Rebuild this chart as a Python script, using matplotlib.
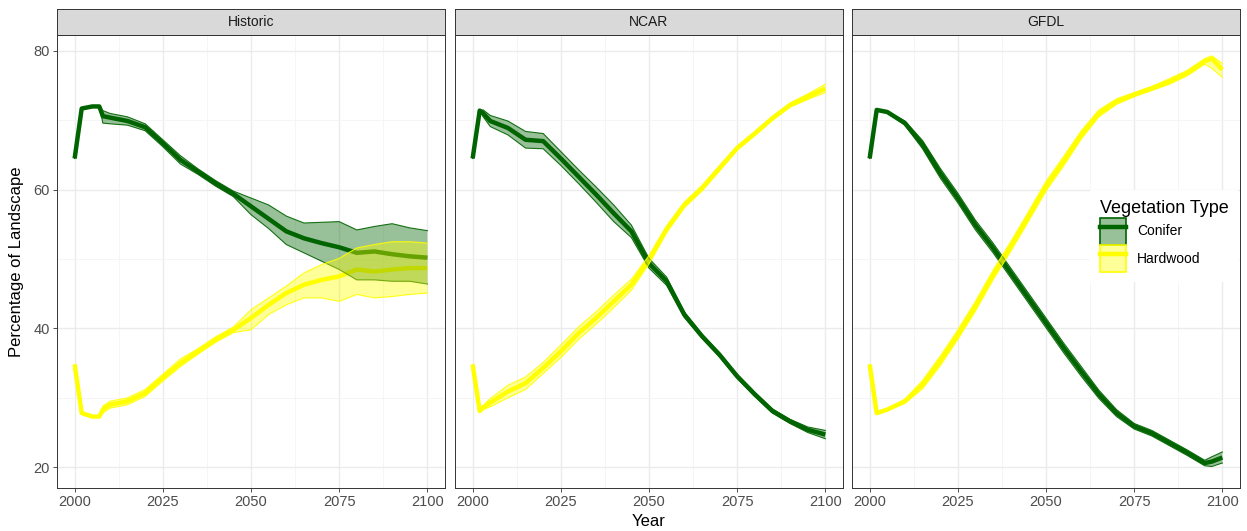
import numpy as np
import matplotlib
matplotlib.use("Agg")
import matplotlib.pyplot as plt
from matplotlib.patches import Patch
from matplotlib.lines import Line2D
from matplotlib.ticker import MultipleLocator

plt.rcParams["font.family"] = ["Liberation Sans", "DejaVu Sans"]

panels = ["Historic", "NCAR", "GFDL"]

# ---- Historic ----
hist_years = [2000, 2002, 2005, 2007, 2008, 2010, 2015, 2020, 2025, 2030, 2035, 2040,
              2045, 2050, 2055, 2060, 2065, 2070, 2075, 2080, 2085, 2090, 2095, 2100]
hist_con_mean = [64.5, 71.7, 72.0, 72.0, 70.6, 70.4, 69.9, 69.0, 66.7, 64.3, 62.6, 60.9,
                 59.4, 57.6, 55.8, 54.0, 53.0, 52.3, 51.7, 50.9, 51.1, 50.7, 50.4, 50.2]
hist_con_hi = [64.5, 71.7, 72.0, 72.0, 71.4, 71.0, 70.5, 69.5, 67.2, 64.9, 63.0, 61.3,
               59.8, 58.8, 57.8, 56.2, 55.2, 55.3, 55.4, 54.2, 54.7, 55.1, 54.5, 54.1]
hist_con_lo = [64.5, 71.7, 72.0, 72.0, 69.6, 69.5, 69.3, 68.5, 66.2, 63.7, 62.2, 60.5,
               59.0, 56.4, 54.4, 52.1, 50.9, 49.7, 48.5, 47.0, 47.0, 46.8, 46.8, 46.4]
hist_hw_mean = [34.8, 27.8, 27.3, 27.3, 28.3, 29.0, 29.5, 30.7, 32.9, 35.0, 36.7, 38.4,
                39.8, 41.5, 43.4, 45.1, 46.3, 47.0, 47.5, 48.5, 48.2, 48.5, 48.7, 48.7]
hist_hw_hi = [34.8, 27.8, 27.3, 27.3, 28.8, 29.5, 30.0, 31.2, 33.4, 35.6, 37.1, 38.8,
              40.2, 42.7, 44.4, 46.1, 48.0, 49.2, 50.1, 51.6, 52.1, 52.5, 52.5, 52.3]
hist_hw_lo = [34.8, 27.8, 27.3, 27.3, 27.8, 28.5, 29.0, 30.2, 32.4, 34.5, 36.3, 38.0,
              39.4, 39.8, 42.0, 43.4, 44.4, 44.4, 43.9, 44.9, 44.4, 44.6, 44.9, 45.1]

# ---- NCAR ----
ncar_years = [2000, 2002, 2003, 2005, 2010, 2015, 2020, 2025, 2030, 2035, 2040, 2045,
              2050, 2055, 2060, 2065, 2070, 2075, 2080, 2085, 2090, 2095, 2100]
ncar_con_mean = [64.5, 71.4, 71.0, 69.9, 68.9, 67.2, 67.0, 64.5, 61.9, 59.3, 56.6, 54.0,
                 49.4, 46.8, 42.0, 38.9, 36.2, 33.1, 30.5, 28.1, 26.6, 25.4, 24.7]
ncar_con_hi = [64.5, 71.4, 71.5, 70.7, 69.9, 68.4, 68.1, 65.5, 62.9, 60.4, 57.8, 54.9,
               50.1, 47.4, 42.4, 39.2, 36.5, 33.4, 30.8, 28.4, 26.9, 25.8, 25.3]
ncar_con_lo = [64.5, 71.4, 70.5, 69.1, 67.9, 66.0, 65.9, 63.5, 60.9, 58.2, 55.4, 53.1,
               48.7, 46.2, 41.6, 38.6, 35.9, 32.8, 30.2, 27.8, 26.3, 25.0, 24.1]
ncar_hw_mean = [34.8, 28.1, 28.6, 29.3, 30.9, 32.1, 34.3, 36.7, 39.3, 41.5, 43.9, 46.3,
                49.9, 54.3, 57.8, 60.2, 63.1, 66.0, 68.1, 70.3, 72.2, 73.4, 74.6]
ncar_hw_hi = [34.8, 28.1, 28.9, 29.9, 31.8, 33.0, 35.1, 37.6, 40.2, 42.4, 44.8, 47.1,
              50.5, 54.8, 58.2, 60.6, 63.5, 66.3, 68.4, 70.6, 72.5, 73.8, 75.2]
ncar_hw_lo = [34.8, 28.1, 28.3, 28.7, 30.0, 31.2, 33.5, 35.8, 38.4, 40.6, 43.0, 45.5,
              49.3, 53.8, 57.4, 59.8, 62.7, 65.7, 67.8, 70.0, 71.9, 73.0, 74.0]

# ---- GFDL ----
gfdl_years = [2000, 2002, 2005, 2010, 2015, 2020, 2025, 2030, 2035, 2040, 2045, 2050,
              2055, 2060, 2065, 2070, 2075, 2080, 2085, 2090, 2095, 2097, 2100]
gfdl_con_mean = [64.5, 71.5, 71.2, 69.6, 66.5, 62.4, 58.8, 54.9, 51.6, 48.0, 44.4, 40.8,
                 37.2, 33.8, 30.5, 27.8, 25.9, 24.9, 23.5, 22.1, 20.6, 20.8, 21.4]
gfdl_con_hi = [64.5, 71.5, 71.3, 69.9, 67.1, 63.1, 59.5, 55.6, 52.3, 48.7, 45.1, 41.5,
               37.9, 34.5, 31.1, 28.3, 26.3, 25.3, 23.9, 22.5, 21.0, 21.5, 22.2]
gfdl_con_lo = [64.5, 71.5, 71.1, 69.3, 65.9, 61.7, 58.1, 54.2, 50.9, 47.3, 43.7, 40.1,
               36.5, 33.1, 29.9, 27.3, 25.5, 24.5, 23.1, 21.7, 20.2, 20.1, 20.6]
gfdl_hw_mean = [34.8, 27.8, 28.3, 29.5, 31.9, 35.3, 39.1, 43.2, 47.7, 51.8, 56.1, 60.5,
                64.1, 67.9, 71.0, 72.7, 73.7, 74.6, 75.6, 76.8, 78.5, 78.9, 77.3]
gfdl_hw_hi = [34.8, 27.8, 28.4, 29.8, 32.5, 36.0, 39.8, 43.9, 48.4, 52.5, 56.8, 61.2,
              64.8, 68.5, 71.5, 73.1, 74.0, 74.9, 76.0, 77.2, 78.9, 79.3, 78.2]
gfdl_hw_lo = [34.8, 27.8, 28.2, 29.2, 31.3, 34.6, 38.4, 42.5, 47.0, 51.1, 55.4, 59.8,
              63.4, 67.3, 70.5, 72.3, 73.4, 74.3, 75.2, 76.4, 78.1, 77.5, 76.2]

data = {
    "Historic": (hist_years, hist_con_mean, hist_con_lo, hist_con_hi,
                 hist_hw_mean, hist_hw_lo, hist_hw_hi),
    "NCAR": (ncar_years, ncar_con_mean, ncar_con_lo, ncar_con_hi,
             ncar_hw_mean, ncar_hw_lo, ncar_hw_hi),
    "GFDL": (gfdl_years, gfdl_con_mean, gfdl_con_lo, gfdl_con_hi,
             gfdl_hw_mean, gfdl_hw_lo, gfdl_hw_hi),
}

con_col = "#006400"
hw_col = "#FFFF00"
W, H = 1247, 531

fig = plt.figure(figsize=(W / 100, H / 100), dpi=100)
lefts = [57, 455, 852]
pw = 388
top, bottom = 35, 488

for i, name in enumerate(panels):
    ax = fig.add_axes([lefts[i] / W, (H - bottom) / H, pw / W, (bottom - top) / H])
    yrs, cm, cl, ch, hm, hl, hh = data[name]
    # lines first, then ribbons on top (as in the original)
    ax.plot(yrs, cm, color=con_col, lw=3.2, zorder=2, solid_capstyle="butt")
    ax.plot(yrs, hm, color=hw_col, lw=3.2, zorder=2, solid_capstyle="butt")
    ax.fill_between(yrs, cl, ch, facecolor=con_col, alpha=0.4, lw=0, zorder=3)
    ax.plot(yrs, cl, color=con_col, lw=0.8, alpha=0.9, zorder=3)
    ax.plot(yrs, ch, color=con_col, lw=0.8, alpha=0.9, zorder=3)
    ax.fill_between(yrs, hl, hh, facecolor=hw_col, alpha=0.4, lw=0, zorder=4)
    ax.plot(yrs, hl, color=hw_col, lw=0.8, alpha=0.9, zorder=4)
    ax.plot(yrs, hh, color=hw_col, lw=0.8, alpha=0.9, zorder=4)

    ax.set_xlim(1995, 2105)
    ax.set_ylim(17.0, 82.3)
    ax.xaxis.set_major_locator(MultipleLocator(25))
    ax.xaxis.set_minor_locator(MultipleLocator(12.5))
    ax.yaxis.set_major_locator(MultipleLocator(20))
    ax.yaxis.set_minor_locator(MultipleLocator(10))
    ax.grid(True, which="major", color="#EBEBEB", lw=1.0, zorder=0)
    ax.grid(True, which="minor", color="#F4F4F4", lw=0.6, zorder=0)
    ax.set_axisbelow(True)
    ax.tick_params(which="minor", length=0)
    ax.tick_params(which="major", length=3, width=0.6, color="#333333",
                   labelsize=10.5, labelcolor="#4D4D4D", pad=2)
    if i > 0:
        ax.tick_params(axis="y", labelleft=False, length=0)
    for s in ax.spines.values():
        s.set_color("#333333")
        s.set_linewidth(0.7)

    # facet strip
    sax = fig.add_axes([lefts[i] / W, (H - top) / H, pw / W, 26 / H])
    sax.set_facecolor("#D9D9D9")
    sax.set_xticks([])
    sax.set_yticks([])
    for s in sax.spines.values():
        s.set_color("#333333")
        s.set_linewidth(0.7)
    sax.text(0.5, 0.5, name, ha="center", va="center", fontsize=10,
             color="#1A1A1A", transform=sax.transAxes)

    if name == "GFDL":
        h_con = (Patch(facecolor=con_col, alpha=0.4, edgecolor="none"),
                 Patch(facecolor="none", edgecolor=con_col, lw=1.2),
                 Line2D([], [], color=con_col, lw=3.2))
        h_hw = (Patch(facecolor=hw_col, alpha=0.4, edgecolor="none"),
                Patch(facecolor="none", edgecolor=hw_col, lw=1.2),
                Line2D([], [], color=hw_col, lw=3.2))
        leg = ax.legend([h_con, h_hw], ["Conifer", "Hardwood"], title="Vegetation Type",
                        loc="center right", bbox_to_anchor=(0.995, 0.556), frameon=True,
                        fontsize=10, title_fontsize=13, handlelength=1.9,
                        handleheight=2.6, labelspacing=0.05, handletextpad=0.8,
                        borderpad=0.7, borderaxespad=0.0, fancybox=False)
        leg.get_frame().set_facecolor("white")
        leg.get_frame().set_edgecolor("none")
        leg.get_frame().set_alpha(1.0)
        leg._legend_box.align = "left"
        leg.set_zorder(10)

fig.text(17 / W, 1 - 261.5 / H, "Percentage of Landscape", rotation=90,
         ha="center", va="center", fontsize=12)
fig.text(648.5 / W, 2 / H, "Year", ha="center", va="bottom", fontsize=12)

fig.savefig("out.png", dpi=100)
